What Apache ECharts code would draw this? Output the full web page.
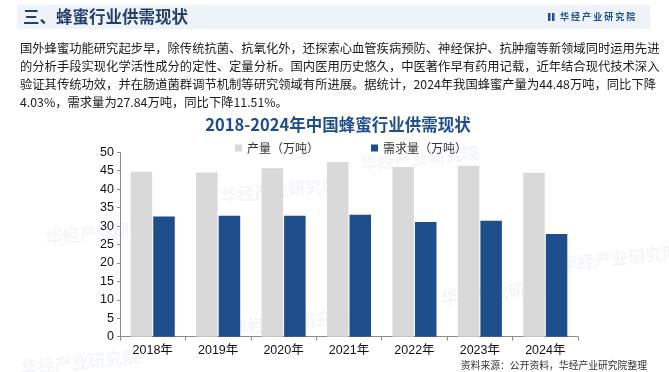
<!DOCTYPE html>
<html>
<head>
<meta charset="utf-8">
<script src="https://cdn.jsdelivr.net/npm/echarts@6/dist/echarts.min.js"></script>
<style>
  html, body { margin: 0; padding: 0; background: #fff; }
  #chart { width: 669px; height: 372px; }
</style>
</head>
<body>
<div id="chart"></div>
<script>
// 数据
const years = ['2018年', '2019年', '2020年', '2021年', '2022年', '2023年', '2024年'];
const output = [44.7, 44.5, 45.7, 47.4, 46.0, 46.35, 44.48];   // 产量（万吨）
const demand = [32.6, 32.8, 32.8, 33.1, 31.1, 31.46, 27.84];   // 需求量（万吨）

const introLines = [
  '国外蜂蜜功能研究起步早，除传统抗菌、抗氧化外，还探索心血管疾病预防、神经保护、抗肿瘤等新领域同时运用先进',
  '的分析手段实现化学活性成分的定性、定量分析。国内医用历史悠久，中医著作早有药用记载，近年结合现代技术深入',
  '验证其传统功效，并在肠道菌群调节机制等研究领域有所进展。据统计，2024年我国蜂蜜产量为44.48万吨，同比下降',
  '4.03%，需求量为27.84万吨，同比下降11.51%。'
];

const cjk = '"Noto Sans CJK SC", "Liberation Sans", sans-serif';
const latin = '"Liberation Sans", "Noto Sans CJK SC", sans-serif';

const chart = echarts.init(document.getElementById('chart'));

// 水印
const marks = [
  [105, 232], [280, 190], [420, 158], [290, 322],
  [500, 292], [80, 362], [620, 258]
].map(([x, y]) => ({
  type: 'text', x, y, rotation: 0.1, z: 0,
  style: { text: '华经产业研究院', font: 'bold 17px ' + cjk, fill: 'rgba(190,200,220,0.18)', align: 'center', verticalAlign: 'middle' }
}));

const graphics = [
  // 顶部标题栏
  { type: 'rect', shape: { x: 17, y: 5, width: 633, height: 24 }, style: { fill: '#eef2f9' }, z: 1 },
  { type: 'text', x: 23, y: 17, z: 2, style: { text: '三、蜂蜜行业供需现状', font: 'bold 16.5px ' + cjk, fill: '#253f6b', verticalAlign: 'middle' } },
  { type: 'rect', shape: { x: 548, y: 13, width: 2.5, height: 8 }, style: { fill: '#1f4e8c' }, z: 2 },
  { type: 'rect', shape: { x: 552, y: 13, width: 2.5, height: 8 }, style: { fill: '#1f4e8c' }, z: 2 },
  { type: 'text', x: 560, y: 17, z: 2, style: { text: '华 经 产 业 研 究 院', font: 'bold 9px ' + cjk, fill: '#1f4e8c', verticalAlign: 'middle' } },
  // 来源
  { type: 'text', x: 647, y: 365, z: 2, style: { text: '资料来源：公开资料，华经产业研究院整理', font: '9.8px ' + cjk, fill: '#333', align: 'right', verticalAlign: 'middle' } }
].concat(introLines.map((t, i) => ({
  type: 'text', x: 20, y: 48 + i * 18.2, z: 2,
  style: { text: t, font: '12.3px ' + cjk, fill: '#1a1a1a', verticalAlign: 'middle' }
}))).concat(marks);

const option = {
  backgroundColor: '#fff',
  animation: false,
  title: {
    text: '2018-2024年中国蜂蜜行业供需现状',
    left: 333, top: 111, textAlign: 'center',
    textStyle: { fontFamily: cjk, fontSize: 16.5, fontWeight: 'bold', color: '#1f4e8c' }
  },
  legend: {
    left: 230, top: 137,
    itemWidth: 7, itemHeight: 7, itemGap: 52, icon: 'rect',
    textStyle: { fontFamily: cjk, fontSize: 12, color: '#333' },
    data: ['产量（万吨）', '需求量（万吨）']
  },
  grid: { left: 120, right: 91, top: 152.3, bottom: 35.3 },
  xAxis: {
    type: 'category',
    data: years,
    axisLine: { lineStyle: { color: '#8c8c8c' } },
    axisTick: { show: true, length: 4, lineStyle: { color: '#8c8c8c' } },
    axisLabel: { fontFamily: latin, fontSize: 12.5, color: '#111', margin: 8 }
  },
  yAxis: {
    type: 'value',
    min: 0, max: 50, interval: 5,
    splitLine: { show: false },
    axisLine: { show: true, lineStyle: { color: '#8c8c8c' } },
    axisTick: { show: true, length: 3, lineStyle: { color: '#8c8c8c' } },
    axisLabel: { fontFamily: latin, fontSize: 12.5, color: '#111', margin: 6 }
  },
  series: [
    {
      name: '产量（万吨）', type: 'bar', data: output,
      barWidth: 21.5, barGap: '5%',
      itemStyle: { color: '#d9d9d9' }, z: 3
    },
    {
      name: '需求量（万吨）', type: 'bar', data: demand,
      barWidth: 21.5,
      itemStyle: { color: '#1f4e8c' }, z: 3
    }
  ],
  graphic: graphics
};

chart.setOption(option);
</script>
</body>
</html>
